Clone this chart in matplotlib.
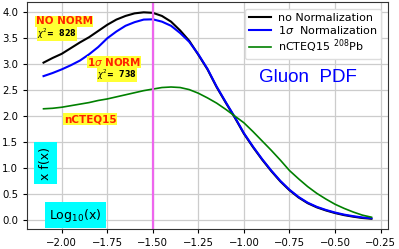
import matplotlib
matplotlib.use("Agg")
import matplotlib.pyplot as plt

x = [-2.10, -2.05, -2.00, -1.95, -1.90, -1.85, -1.80, -1.75, -1.70, -1.65,
     -1.60, -1.55, -1.50, -1.45, -1.40, -1.35, -1.30, -1.25, -1.20, -1.15,
     -1.10, -1.05, -1.00, -0.95, -0.90, -0.85, -0.80, -0.75, -0.70, -0.65,
     -0.60, -0.55, -0.50, -0.45, -0.40, -0.35, -0.30]

no_norm = [3.03, 3.12, 3.20, 3.31, 3.42, 3.52, 3.64, 3.76, 3.86, 3.93,
           3.98, 4.00, 3.99, 3.93, 3.82, 3.65, 3.45, 3.18, 2.90, 2.56,
           2.26, 1.97, 1.66, 1.40, 1.16, 0.94, 0.74, 0.57, 0.43, 0.32,
           0.24, 0.18, 0.13, 0.09, 0.06, 0.035, 0.02]

one_sigma = [2.77, 2.83, 2.90, 2.98, 3.07, 3.19, 3.33, 3.50, 3.63, 3.74,
             3.81, 3.86, 3.865, 3.82, 3.74, 3.60, 3.43, 3.19, 2.91, 2.57,
             2.27, 1.98, 1.67, 1.41, 1.17, 0.95, 0.75, 0.58, 0.44, 0.33,
             0.25, 0.19, 0.14, 0.10, 0.07, 0.045, 0.03]

ncteq = [2.14, 2.15, 2.17, 2.20, 2.23, 2.26, 2.30, 2.33, 2.37, 2.41,
         2.45, 2.49, 2.52, 2.55, 2.56, 2.55, 2.51, 2.44, 2.35, 2.25,
         2.13, 2.00, 1.87, 1.70, 1.52, 1.34, 1.15, 0.95, 0.79, 0.64,
         0.51, 0.40, 0.30, 0.22, 0.15, 0.09, 0.05]

vline_x = -1.5

fig = plt.figure(figsize=(3.99, 2.49), dpi=100)
ax = fig.add_axes([0.068, 0.080, 0.904, 0.912])

ax.plot(x, no_norm, color="black", lw=1.5, label="no Normalization")
ax.plot(x, one_sigma, color="#0000ff", lw=1.5, label=r"1$\sigma$  Normalization")
ax.plot(x, ncteq, color="green", lw=1.2, label=r"nCTEQ15 $^{208}$Pb")
ax.axvline(vline_x, color="#ee66ee", lw=1.6)

ax.grid(True, color="#cccccc", lw=0.9)
ax.set_axisbelow(True)
ax.tick_params(labelsize=7.3, length=3, width=0.8)
ax.set_yticks([0.0, 0.5, 1.0, 1.5, 2.0, 2.5, 3.0, 3.5, 4.0])
for s in ax.spines.values():
    s.set_color("#333333")
    s.set_linewidth(0.8)

leg = ax.legend(loc="upper right", fontsize=8.0, handlelength=2.0,
                borderpad=0.35, labelspacing=0.12, handletextpad=0.6,
                framealpha=1.0, edgecolor="#dddddd",
                bbox_to_anchor=(0.997, 0.995))

def fx(px):
    return px / 399.0

def fy(py):
    return 1 - py / 249.0

red = "#ff2200"
yellow = "#ffff33"
fig.text(fx(64), fy(21.5), "NO NORM", color=red, fontsize=7.5, fontweight="bold",
         ha="center", va="center",
         bbox=dict(facecolor=yellow, edgecolor="none", pad=0.1))
fig.text(fx(57), fy(33.5), r"$\chi^2$=  828", color="black", fontsize=5.8, fontweight="bold",
         ha="center", va="center",
         bbox=dict(facecolor=yellow, edgecolor="none", pad=0.1))
fig.text(fx(114), fy(62), r"1$\sigma$ NORM", color=red, fontsize=7.5, fontweight="bold",
         ha="center", va="center",
         bbox=dict(facecolor=yellow, edgecolor="none", pad=0.1))
fig.text(fx(117), fy(75), r"$\chi^2$=  738", color="black", fontsize=5.8, fontweight="bold",
         ha="center", va="center",
         bbox=dict(facecolor=yellow, edgecolor="none", pad=0.1))
fig.text(fx(90), fy(119), "nCTEQ15", color=red, fontsize=7.5, fontweight="bold",
         ha="center", va="center",
         bbox=dict(facecolor=yellow, edgecolor="none", pad=0.5))
fig.text(fx(45.5), fy(163), "x f(x)", color="black", fontsize=9, rotation=90,
         ha="center", va="center",
         bbox=dict(facecolor="#00ffff", edgecolor="none", pad=3.5))
fig.text(fx(75.5), fy(215), r"Log$_{10}$(x)", color="black", fontsize=9,
         ha="center", va="center",
         bbox=dict(facecolor="#00ffff", edgecolor="none", pad=3))
fig.text(fx(308), fy(77), "Gluon  PDF", color="#0000ff", fontsize=13.5,
         family="Liberation Sans", ha="center", va="center")

fig.savefig("out.png", dpi=100)
